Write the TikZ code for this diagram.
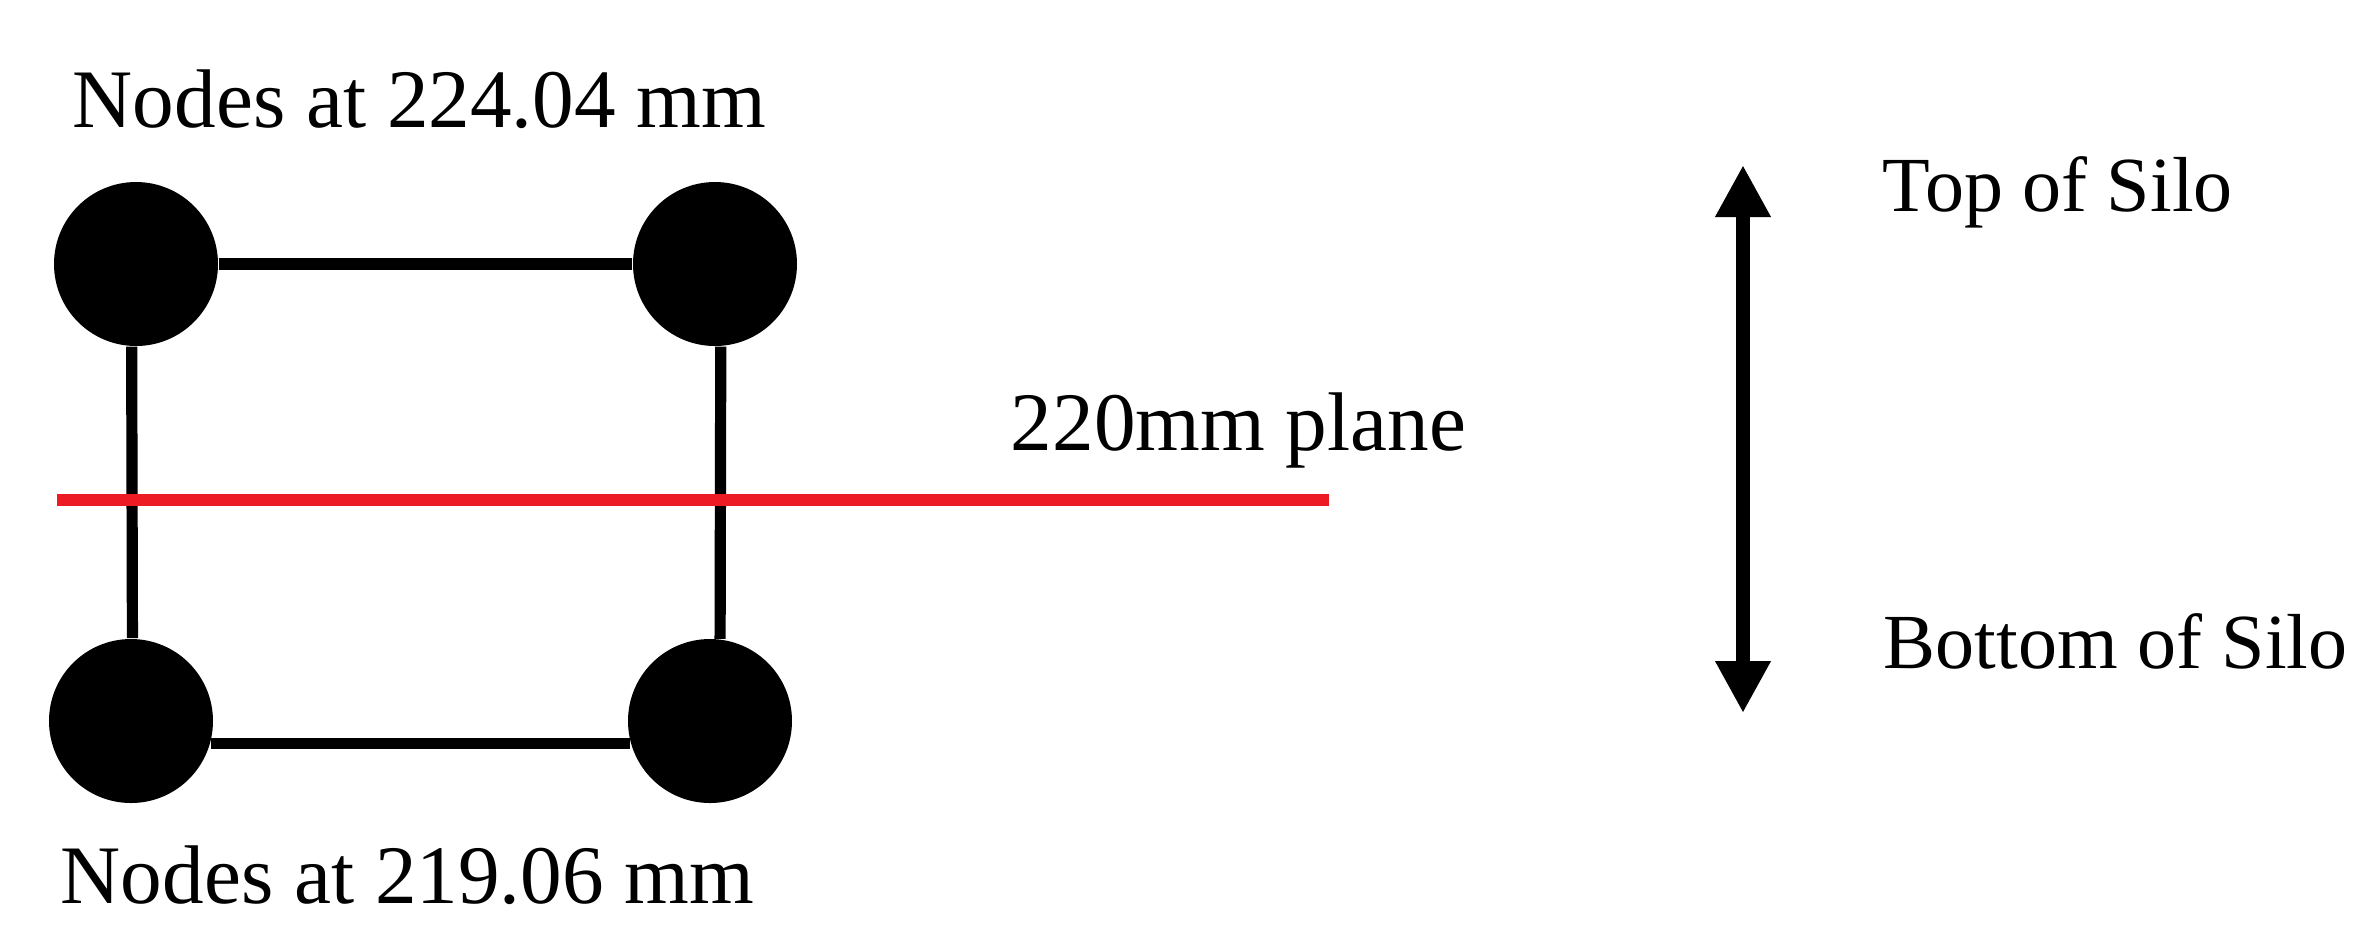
\documentclass[tikz,border=0pt]{standalone}
\usepackage{fontspec}
\setmainfont{Liberation Serif}
\usetikzlibrary{arrows.meta}
\definecolor{planered}{RGB}{237,28,36}
\begin{document}
\begin{tikzpicture}[x=0.25pt,y=-0.25pt,
  dot/.style={circle,fill=black,inner sep=0pt,minimum size=41pt},
  bar/.style={line width=2.8pt},
  lbl/.style={anchor=base west,inner sep=0pt,font=\fontsize{20.8}{25}\selectfont},
  silo/.style={anchor=base west,inner sep=0pt,font=\fontsize{19.5}{23}\selectfont}]
\useasboundingbox (0,0) rectangle (2370,936);
% the four nodes
\node[dot] (tl) at (136,264) {};
\node[dot] (tr) at (715,264) {};
\node[dot] (bl) at (131,721) {};
\node[dot] (br) at (710,721) {};
\draw[bar] (tl) -- (tr);
\draw[bar] (bl.-16) -- (br.196);
\draw[bar] (tl.-93) -- (bl.89);
\draw[bar] (tr.-86) -- (br.83);
% plane
\coordinate (pl) at (57,500);
\coordinate (pr) at (1329,500);
\draw[bar,planered] (pl) -- (pr);
\node[lbl] (plane) at (1010,450) {220mm plane};
\node[lbl] (toplbl) at (72,127) {Nodes at 224.04 mm};
\node[lbl] (botlbl) at (60,903) {Nodes at 219.06 mm};
% silo direction
\coordinate (up) at (1743,165);
\coordinate (dn) at (1743,713);
\draw[line width=3.5pt,{Triangle[length=13pt,width=13pt]}-{Triangle[length=13pt,width=13pt]}] (up) -- (dn);
\node[silo] (topsilo) at (1882,211) {Top of Silo};
\node[silo] (botsilo) at (1883,668) {Bottom of Silo};
\end{tikzpicture}
\end{document}
